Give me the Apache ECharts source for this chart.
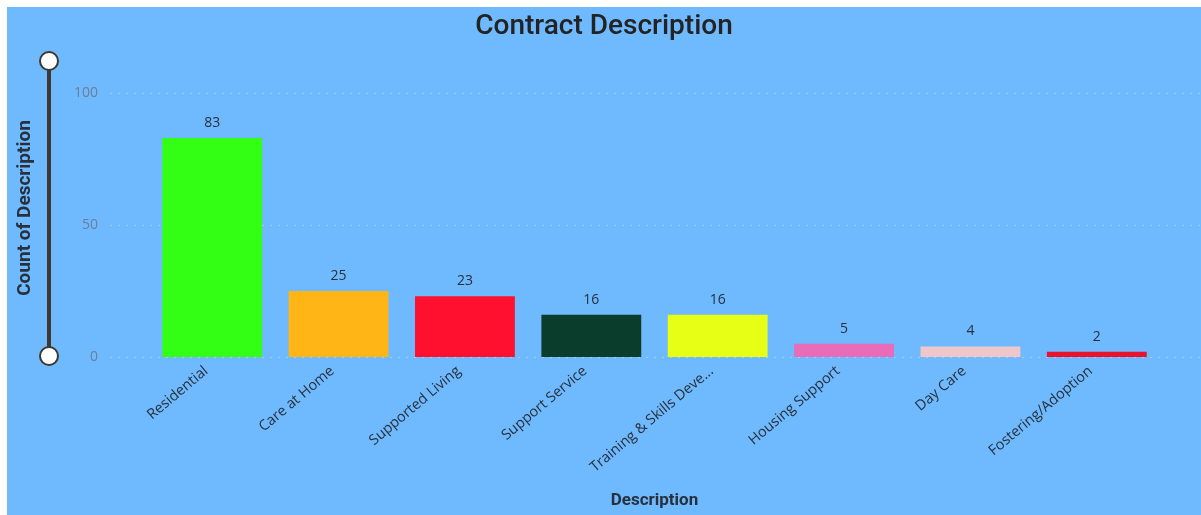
<!DOCTYPE html>
<html>
<head>
<meta charset="utf-8">
<title>Contract Description</title>
<script src="https://cdn.jsdelivr.net/npm/echarts@6/dist/echarts.min.js"></script>
<style>
  html, body { margin: 0; padding: 0; background: #ffffff; }
  #chart {
    position: absolute; left: 7px; top: 7px;
    width: 1194px; height: 508px;
    background: #6FB9FF;
  }
</style>
</head>
<body>
<div id="chart"></div>
<script>
// Contract counts by description
const categories = [
  'Residential', 'Care at Home', 'Supported Living', 'Support Service',
  'Training & Skills Development', 'Housing Support', 'Day Care', 'Fostering/Adoption'
];
const counts = [83, 25, 23, 16, 16, 5, 4, 2];
const barColors = [
  '#33FF14', '#FFB515', '#FF102E', '#0A3D2C',
  '#E6FF14', '#E86CB8', '#EFC7CB', '#E8122E'
];

const textDark = '#27303b';
const uiFont = '"Open Sans", "Noto Sans", sans-serif';
const headFont = 'Roboto, "DejaVu Sans", sans-serif';

const chart = echarts.init(document.getElementById('chart'), null, { renderer: 'canvas' });

chart.setOption({
  animation: false,
  title: {
    text: 'Contract Description',
    left: 'center',
    top: 1,
    textStyle: {
      fontFamily: headFont,
      fontWeight: 500,
      fontSize: 28,
      color: '#232323'
    }
  },
  grid: [
    // bars
    { left: 142, right: 41, top: 86, bottom: 158 },
    // value gridlines spanning the full width
    { left: 103, right: 0, top: 86, bottom: 158 }
  ],
  xAxis: [
    {
      type: 'category',
      gridIndex: 0,
      data: categories,
      axisLine: { show: false },
      axisTick: { show: false },
      axisLabel: {
        rotate: 40,
        margin: 7,
        padding: [0, 8, 0, 0],
        fontFamily: uiFont,
        fontSize: 14.5,
        color: textDark,
        interval: 0,
        formatter: function (v) {
          return v.length > 22 ? v.slice(0, 22) + '...' : v;
        }
      },
      name: 'Description',
      nameLocation: 'middle',
      nameGap: 135,
      nameTextStyle: {
        fontFamily: headFont,
        fontSize: 17,
        fontWeight: 'bold',
        color: textDark
      }
    },
    {
      type: 'value',
      gridIndex: 1,
      show: false
    }
  ],
  yAxis: [
    {
      type: 'value',
      gridIndex: 0,
      min: 0,
      max: 100,
      interval: 50,
      show: false,
      splitLine: { show: false }
    },
    {
      type: 'value',
      gridIndex: 1,
      min: 0,
      max: 100,
      interval: 50,
      axisLine: { show: false },
      axisTick: { show: false },
      axisLabel: {
        margin: 12,
        fontFamily: uiFont,
        fontSize: 14,
        color: '#6a7f98'
      },
      splitLine: {
        show: true,
        lineStyle: { type: [2, 6], color: '#a6cdf2', width: 1 }
      },
      name: 'Count of Description',
      nameLocation: 'middle',
      nameGap: 75,
      nameTextStyle: {
        fontFamily: headFont,
        fontSize: 19,
        fontWeight: 'bold',
        color: textDark,
        padding: [0, 0, 0, 34]
      }
    }
  ],
  dataZoom: [
    {
      type: 'slider',
      orient: 'vertical',
      yAxisIndex: [0, 1],
      filterMode: 'none',
      start: 0,
      end: 100,
      left: 39,
      width: 4,
      top: 53,
      bottom: 158,
      showDetail: false,
      showDataShadow: false,
      brushSelect: false,
      moveHandleSize: 0,
      moveHandleStyle: { opacity: 0 },
      backgroundColor: 'transparent',
      borderColor: 'transparent',
      fillerColor: '#3f3732',
      dataBackground: {
        lineStyle: { opacity: 0 },
        areaStyle: { opacity: 0 }
      },
      handleIcon: 'circle',
      handleSize: 18,
      handleStyle: {
        color: '#ffffff',
        borderColor: '#3f3732',
        borderWidth: 2
      },
      emphasis: {
        handleStyle: { color: '#ffffff', borderColor: '#3f3732' }
      }
    }
  ],
  series: [
    {
      type: 'bar',
      xAxisIndex: 0,
      yAxisIndex: 0,
      barWidth: '79%',
      data: counts.map((v, i) => ({ value: v, itemStyle: { color: barColors[i] } })),
      label: {
        show: true,
        position: 'top',
        distance: 8,
        fontFamily: uiFont,
        fontSize: 14,
        color: textDark
      }
    }
  ]
});
</script>
</body>
</html>
